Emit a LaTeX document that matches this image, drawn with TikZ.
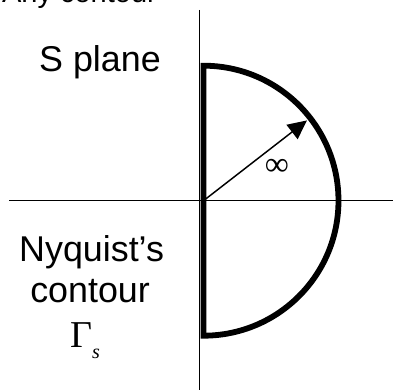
\documentclass[tikz,border=0pt]{standalone}
\usepackage{fontspec}
\setmainfont{Liberation Sans}
\newfontfamily\serf{Liberation Serif}
\usetikzlibrary{arrows.meta}

\begin{document}
\begin{tikzpicture}[line cap=butt, line join=miter,
  lbl/.style={inner sep=0pt, font=\fontsize{34}{40}\selectfont}]

%-----------------------
% 参数：半圆半径 R，箭头方向 beta
%-----------------------
\def\R{4.5}
\def\beta{37.8}
\pgfmathsetmacro{\rlen}{0.97*\R}

% 画布范围
\useasboundingbox (-6.783,-6.31) rectangle (6.317,6.69);

%-----------------------
% 点
%-----------------------
\coordinate (O)  at (0,0);
\coordinate (T)  at (0,\R);
\coordinate (B)  at (0,-\R);
\coordinate (P)  at ({\rlen*cos(\beta)},{\rlen*sin(\beta)});

%-----------------------
% 坐标轴（细线）
%-----------------------
\draw[line width=1.4pt] (-6.48,0) -- (6.317,0);
\draw[line width=1.4pt] (-0.133,6.36) -- (-0.133,-6.31);

%-----------------------
% Nyquist 围线：虚轴 + 右半圆
%-----------------------
\draw[line width=5.5pt] (B) -- (T) arc[start angle=90, end angle=-90, radius=\R] -- cycle;

% 半径 -> 无穷
\draw[line width=1.4pt, -{Triangle[length=0.63cm,width=0.6cm]}] (O) -- (P);
\node[inner sep=0pt, font=\serf\fontsize{32}{36}\selectfont] (inf) at (2.45,1.12) {∞};

%-----------------------
% 文字
%-----------------------
\node[inner sep=0pt, anchor=base west, font=\fontsize{27.5}{32}\selectfont] (any) at (-6.72,6.62) {Any contour};
\node[lbl, anchor=base] (splane) at (-3.45,4.29) {S plane};
\node[lbl, anchor=base] (nyq) at (-3.73,-2.04) {Nyquist’s};
\node[lbl, anchor=base] (cont) at (-3.78,-3.38) {contour};
\node[inner sep=0pt, anchor=base west, font=\serf\fontsize{36}{40}\selectfont] (gam) at (-4.45,-4.88)
  {Γ\raisebox{-0.37cm}{\fontsize{19}{20}\selectfont\itshape s}};

\end{tikzpicture}
\end{document}
